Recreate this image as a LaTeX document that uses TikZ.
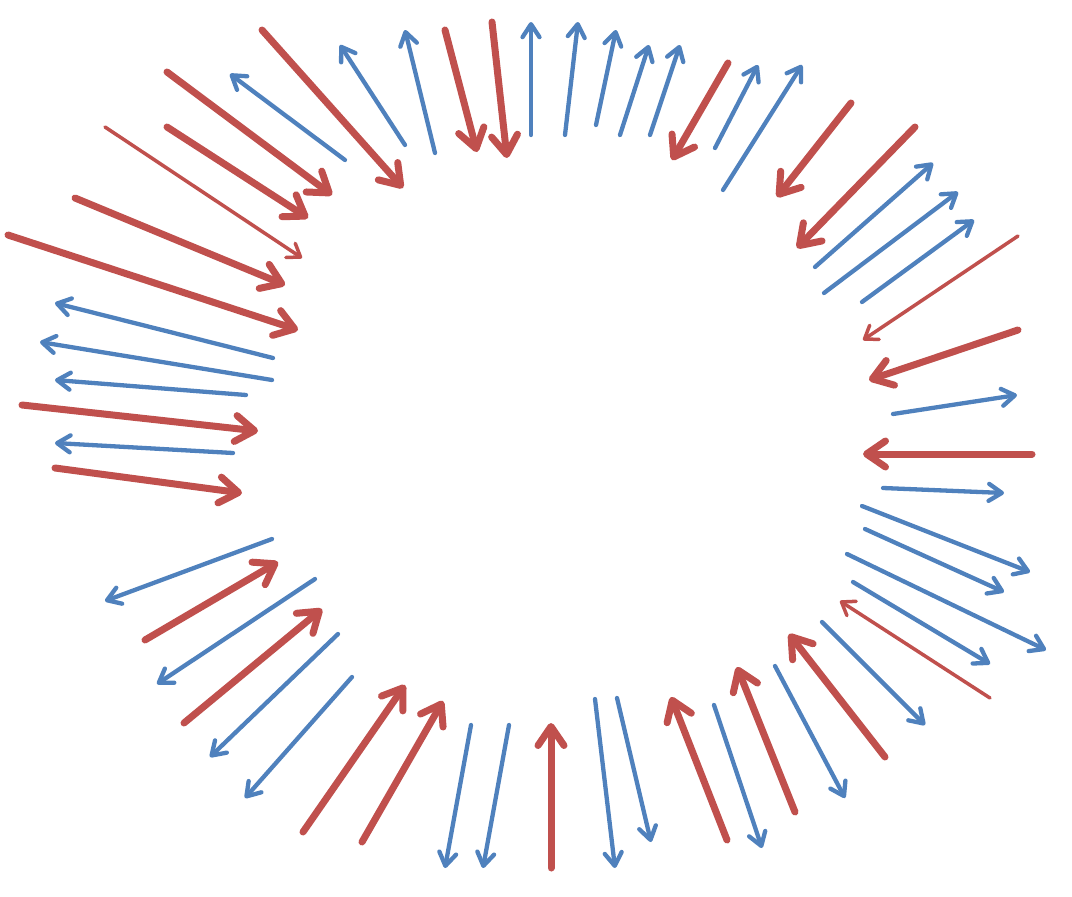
\documentclass[tikz,border=0pt]{standalone}
\usetikzlibrary{arrows.meta}
\definecolor{rayred}{RGB}{192,80,77}
\definecolor{rayblue}{RGB}{79,129,189}

\begin{document}
\begin{tikzpicture}[
    x=1pt, y=-1pt,
    redray/.style={draw=rayred, line width=7pt, line cap=round, -{Straight Barb[length=19pt, width=26pt, round]}},
    thinred/.style={draw=rayred, line width=3.5pt, line cap=round, -{Straight Barb[length=12pt, width=17pt, round]}},
    blueray/.style={draw=rayblue, line width=4.3pt, line cap=round, -{Straight Barb[length=13pt, width=17pt, round]}}
]
\useasboundingbox (0,0) rectangle (1072,897);
% blue rays (tail/head)
\foreach \xa/\ya/\xb/\yb in {
    531/135/531/22, 565/135/578/22, 596/125/616/30, 620/135/649/45,
    650/135/680/45, 715/148/758/65, 723/190/802/65, 815/267/933/163,
    824/293/958/192, 862/302/974/220, 893/414/1017/395, 883/488/1004/493,
    862/506/1030/572, 865/529/1004/592, 847/554/1046/650, 853/582/990/664,
    822/622/925/725, 775/666/845/798, 714/705/762/848, 617/698/651/842,
    595/699/615/868, 509/725/483/868, 471/725/445/868, 352/677/245/798,
    338/634/210/757, 315/579/157/684, 272/539/105/601, 233/453/55/443,
    246/395/55/380, 272/380/40/342, 273/358/55/303, 345/160/230/74,
    405/145/340/45, 435/153/405/30}
    \draw[blueray] (\xa,\ya) -- (\xb,\yb);
% red rays
\foreach \xa/\ya/\xb/\yb in {
    728/63/672/160, 851/103/777/197, 915/127/797/248, 1018/330/869/380,
    1032/454/863/454, 885/757/789/634, 795/812/737/667, 727/840/671/697,
    551/868/551/723, 362/842/443/701, 303/832/405/685, 184/723/322/609,
    145/640/278/562, 55/468/242/493, 22/405/258/431, 8/235/298/330,
    75/198/285/285, 167/127/308/218, 167/72/332/195, 262/30/403/188,
    445/30/477/152, 492/22/507/158}
    \draw[redray] (\xa,\ya) -- (\xb,\yb);
% thin red rays
\foreach \xa/\ya/\xb/\yb in {1018/236/863/340, 990/698/840/601, 105/127/302/258}
    \draw[thinred] (\xa,\ya) -- (\xb,\yb);
\end{tikzpicture}
\end{document}
